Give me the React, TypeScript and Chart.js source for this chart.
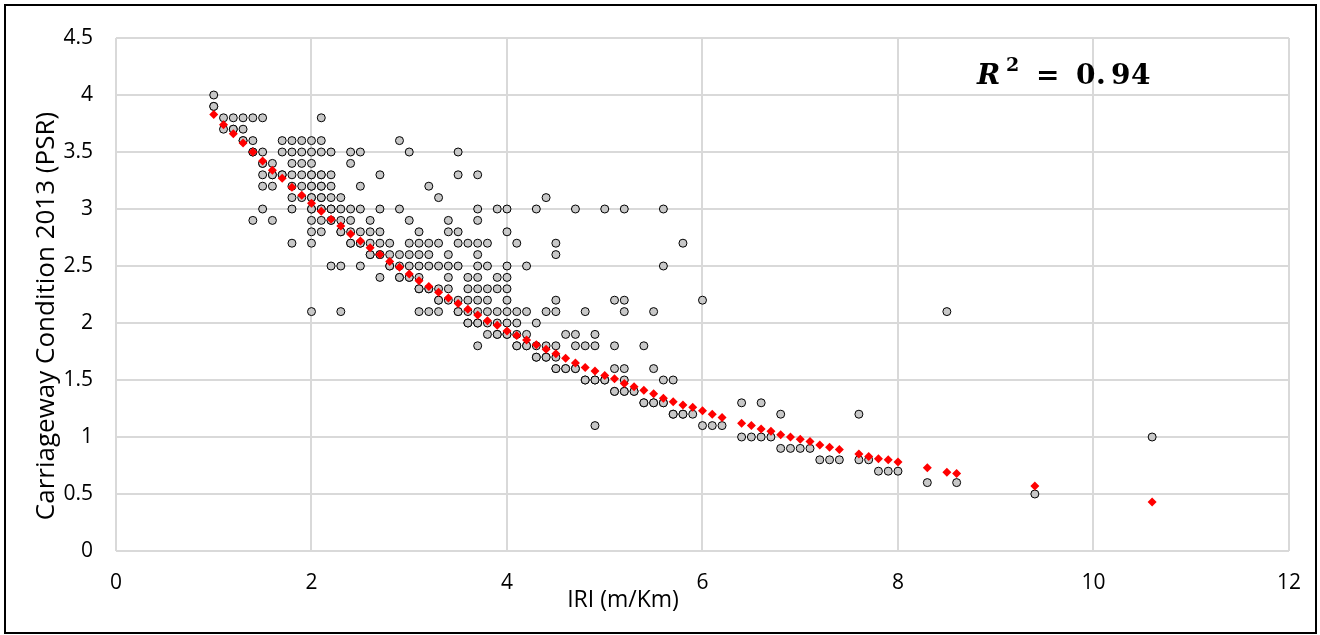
import React, { useEffect, useRef } from "react";
import { Chart, registerables } from "chart.js";

Chart.register(...registerables);

// Observed PSR levels and the IRI values recorded at each level (repeats = overlapping observations)
const psrLevels = [4.0, 3.9, 3.8, 3.7, 3.6, 3.5, 3.4, 3.3, 3.2, 3.1, 3.0, 2.9, 2.8, 2.7, 2.6, 2.5, 2.4, 2.3, 2.2, 2.1, 2.0, 1.9, 1.8, 1.7, 1.6, 1.5, 1.4, 1.3, 1.2, 1.1, 1.0, 0.9, 0.8, 0.7, 0.6, 0.5];
const iriAtLevel = [
  [1.0],
  [1.0, 1.0],
  [1.1, 1.2, 1.3, 1.4, 1.5, 2.1],
  [1.1, 1.2, 1.2, 1.3],
  [1.3, 1.3, 1.4, 1.7, 1.8, 1.9, 2.0, 2.1, 2.9],
  [1.4, 1.4, 1.5, 1.7, 1.8, 1.9, 2.0, 2.1, 2.2, 2.4, 2.5, 3.0, 3.5],
  [1.5, 1.5, 1.6, 1.8, 1.9, 2.0, 2.4],
  [1.5, 1.6, 1.6, 1.7, 1.7, 1.8, 1.9, 2.0, 2.0, 2.1, 2.1, 2.2, 2.7, 3.5, 3.7],
  [1.5, 1.6, 1.8, 1.9, 2.0, 2.0, 2.1, 2.1, 2.2, 2.5, 3.2],
  [1.8, 1.9, 2.0, 2.0, 2.1, 2.1, 2.2, 2.3, 3.3, 4.4],
  [1.5, 1.8, 2.0, 2.0, 2.1, 2.1, 2.2, 2.2, 2.3, 2.4, 2.5, 2.7, 2.9, 3.7, 3.9, 4.0, 4.3, 4.7, 5.0, 5.2, 5.6],
  [1.4, 1.6, 2.0, 2.1, 2.2, 2.2, 2.3, 2.4, 2.6, 3.0, 3.4, 3.7],
  [2.0, 2.1, 2.3, 2.3, 2.4, 2.5, 2.6, 2.7, 3.1, 3.4, 3.5, 4.0],
  [1.8, 2.0, 2.4, 2.4, 2.5, 2.5, 2.6, 2.7, 2.8, 3.0, 3.1, 3.2, 3.3, 3.5, 3.6, 3.7, 3.8, 4.1, 4.5, 5.8],
  [2.6, 2.6, 2.7, 2.7, 2.8, 2.9, 3.0, 3.1, 3.2, 3.4, 3.7, 4.5],
  [2.2, 2.3, 2.5, 2.8, 2.8, 2.9, 3.0, 3.1, 3.2, 3.3, 3.4, 3.5, 3.7, 3.8, 4.0, 4.2, 5.6],
  [2.7, 2.9, 2.9, 3.0, 3.0, 3.1, 3.4, 3.6, 3.7, 3.9, 4.0],
  [3.1, 3.1, 3.2, 3.2, 3.3, 3.4, 3.6, 3.7, 3.8, 3.9, 4.0],
  [3.3, 3.3, 3.4, 3.5, 3.6, 3.7, 3.8, 4.0, 4.5, 5.1, 5.2, 6.0],
  [2.0, 2.3, 3.1, 3.2, 3.3, 3.5, 3.5, 3.6, 3.7, 3.8, 3.9, 4.0, 4.1, 4.2, 4.4, 4.5, 4.8, 5.2, 5.5, 8.5],
  [3.6, 3.6, 3.7, 3.7, 3.8, 3.9, 4.0, 4.1, 4.3],
  [3.8, 3.9, 3.9, 4.0, 4.0, 4.1, 4.2, 4.6, 4.7, 4.9],
  [3.7, 4.1, 4.1, 4.2, 4.2, 4.3, 4.4, 4.5, 4.7, 4.8, 4.9, 5.1, 5.4],
  [4.3, 4.3, 4.4, 4.4, 4.5],
  [4.5, 4.5, 4.6, 4.6, 4.7, 4.7, 5.1, 5.2, 5.5],
  [4.8, 4.8, 4.9, 4.9, 5.0, 5.0, 5.2, 5.6, 5.7],
  [5.1, 5.1, 5.2, 5.2, 5.3, 5.3],
  [5.4, 5.4, 5.5, 5.5, 5.6, 5.6, 6.4, 6.6],
  [5.7, 5.7, 5.8, 5.8, 5.9, 6.8, 7.6],
  [4.9, 6.0, 6.1, 6.2],
  [6.4, 6.5, 6.6, 6.7, 10.6],
  [6.8, 6.9, 7.0, 7.1],
  [7.2, 7.3, 7.4, 7.6, 7.7],
  [7.8, 7.9, 8.0],
  [8.3, 8.6],
  [9.4],
];

// Predicted PSR (red diamonds)
const fitIri = [1.0, 1.1, 1.2, 1.3, 1.4, 1.5, 1.6, 1.7, 1.8, 1.9, 2.0, 2.1, 2.2, 2.3, 2.4, 2.5, 2.6, 2.7, 2.8, 2.9, 3.0, 3.1, 3.2, 3.3, 3.4, 3.5, 3.6, 3.7, 3.8, 3.9, 4.0, 4.1, 4.2, 4.3, 4.4, 4.5, 4.6, 4.7, 4.8, 4.9, 5.0, 5.1, 5.2, 5.3, 5.4, 5.5, 5.6, 5.7, 5.8, 5.9, 6.0, 6.1, 6.2, 6.4, 6.5, 6.6, 6.7, 6.8, 6.9, 7.0, 7.1, 7.2, 7.3, 7.4, 7.6, 7.7, 7.8, 7.9, 8.0, 8.3, 8.5, 8.6, 9.4, 10.6];
const fitPsr = [3.83, 3.74, 3.66, 3.58, 3.50, 3.42, 3.34, 3.27, 3.19, 3.12, 3.05, 2.98, 2.91, 2.85, 2.78, 2.72, 2.66, 2.60, 2.54, 2.49, 2.43, 2.37, 2.32, 2.27, 2.22, 2.17, 2.12, 2.07, 2.02, 1.98, 1.93, 1.89, 1.85, 1.81, 1.77, 1.73, 1.69, 1.65, 1.61, 1.58, 1.54, 1.51, 1.47, 1.44, 1.41, 1.38, 1.34, 1.31, 1.28, 1.26, 1.23, 1.20, 1.17, 1.12, 1.10, 1.07, 1.05, 1.02, 1.00, 0.98, 0.96, 0.93, 0.91, 0.89, 0.85, 0.83, 0.81, 0.80, 0.78, 0.73, 0.69, 0.68, 0.57, 0.43];

const xTitle = "IRI (m/Km)";
const yTitle = "Carriageway Condition 2013 (PSR)";
const rSquaredText = "0.94";

const FONT = "'Open Sans', 'Liberation Sans', sans-serif";

const annotationPlugin = {
  id: "annotations",
  afterDraw(chart: any) {
    const ctx = chart.ctx;
    // axis titles (placed as in the original layout)
    ctx.save();
    ctx.fillStyle = "#000";
    ctx.textAlign = "center";
    ctx.textBaseline = "middle";
    ctx.font = `23px ${FONT}`;
    ctx.fillText(xTitle, 623, 600);
    ctx.font = `26px ${FONT}`;
    ctx.translate(47, 316);
    ctx.rotate(-Math.PI / 2);
    ctx.fillText(yTitle, 0, 0);
    ctx.restore();

    // R² label
    ctx.save();
    ctx.fillStyle = "#000";
    ctx.textBaseline = "alphabetic";
    ctx.textAlign = "left";
    const base = 84;
    ctx.font = "bold italic 28px 'DejaVu Serif'";
    ctx.fillText("R", 977, base);
    ctx.font = "bold 19px 'DejaVu Serif'";
    ctx.fillText("2", 1006, base - 13);
    ctx.font = "bold 28px 'DejaVu Serif'";
    ctx.fillText("=", 1036, base);
    const chars = rSquaredText.split("");
    const xs = [1076, 1096, 1111, 1131];
    chars.forEach((c, i) => ctx.fillText(c, xs[i], base));
    ctx.restore();
  },
};

export default function App() {
  const ref = useRef<HTMLCanvasElement | null>(null);

  useEffect(() => {
    if (!ref.current) return;
    const observed: { x: number; y: number }[] = [];
    psrLevels.forEach((lvl, i) => {
      iriAtLevel[i].forEach((iri) => observed.push({ x: iri, y: lvl }));
    });
    const predicted = fitIri.map((x, i) => ({ x, y: fitPsr[i] }));

    const chart = new Chart(ref.current, {
      type: "scatter",
      data: {
        datasets: [
          {
            label: "Predicted",
            data: predicted,
            pointStyle: "rectRot",
            pointRadius: 4.5,
            backgroundColor: "#ff0000",
            borderColor: "#ff0000",
            borderWidth: 0,
            order: 0,
          },
          {
            label: "Observed",
            data: observed,
            pointStyle: "circle",
            pointRadius: 4,
            backgroundColor: "#c8c8c8",
            borderColor: "#000000",
            borderWidth: 1,
            order: 1,
          },
        ],
      },
      options: {
        animation: false,
        responsive: false,
        maintainAspectRatio: false,
        layout: { padding: { top: 38, right: 30, left: 0, bottom: 0 } },
        plugins: {
          legend: { display: false },
          tooltip: { enabled: false },
        },
        scales: {
          x: {
            type: "linear",
            min: 0,
            max: 12,
            ticks: { stepSize: 2, padding: 19, color: "#000", font: { family: FONT, size: 21 } },
            grid: { color: "#d9d9d9", lineWidth: 2, drawTicks: false },
            border: { display: false },
            title: { display: false },
            afterFit(scale: any) {
              scale.height = 84;
            },
          },
          y: {
            type: "linear",
            min: 0,
            max: 4.5,
            ticks: {
              stepSize: 0.5,
              padding: 23,
              color: "#000",
              font: { family: FONT, size: 21 },
              callback: (v: any) => String(Number(v)),
            },
            grid: { color: "#d9d9d9", lineWidth: 2, drawTicks: false },
            border: { display: false },
            title: { display: false },
            afterFit(scale: any) {
              scale.width = 116;
            },
          },
        },
      },
      plugins: [annotationPlugin],
    });
    return () => chart.destroy();
  }, []);

  return (
    <div style={{ position: "fixed", left: 0, top: 0, width: 1320, height: 635, background: "#fff" }}>
      <canvas ref={ref} width={1320} height={635} style={{ position: "absolute", left: 0, top: 0, width: 1320, height: 635 }} />
      <div
        style={{
          position: "absolute",
          left: 4,
          top: 4,
          width: 1313,
          height: 630,
          border: "2px solid #000",
          boxSizing: "border-box",
          pointerEvents: "none",
        }}
      />
    </div>
  );
}
